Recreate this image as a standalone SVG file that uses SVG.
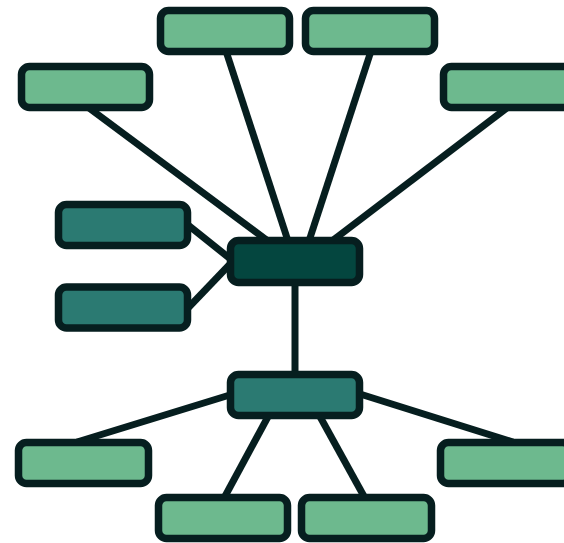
<svg xmlns="http://www.w3.org/2000/svg" width="564" height="543" viewBox="0 0 564 543">
<style>
.n rect{stroke:#061e1f;stroke-width:7.5;}
.leaf rect{fill:#6db98e;}
.mid rect{fill:#2b7a72;}
.root rect{fill:#04463f;}
#edges line{stroke:#061e1f;stroke-width:7;stroke-linecap:butt;}
</style>
<rect width="564" height="543" fill="#ffffff"/>
<g id="edges">
<line x1="85" y1="105" x2="272" y2="244"/>
<line x1="225" y1="48" x2="289" y2="244"/>
<line x1="372" y1="48" x2="308" y2="244"/>
<line x1="512" y1="104" x2="328" y2="244"/>
<line x1="188" y1="225" x2="233" y2="261"/>
<line x1="188" y1="308" x2="233" y2="261"/>
<line x1="295" y1="280" x2="295" y2="378"/>
<line x1="233" y1="394" x2="77" y2="442"/>
<line x1="270" y1="413" x2="223" y2="500"/>
<line x1="318" y1="413" x2="366" y2="500"/>
<line x1="360" y1="394" x2="513" y2="442"/>
</g>
<g id="root" class="n root"><rect x="230.5" y="240.5" width="129" height="42" rx="8"/></g>
<g id="hub2" class="n mid"><rect x="230.5" y="374.5" width="129" height="41" rx="8"/></g>
<g id="side1" class="n mid"><rect x="58.5" y="204.5" width="129" height="41" rx="8"/></g>
<g id="side2" class="n mid"><rect x="58.5" y="287" width="129" height="41" rx="8"/></g>
<g id="top1" class="n leaf"><rect x="21.5" y="66.5" width="128" height="41" rx="8"/></g>
<g id="top2" class="n leaf"><rect x="160.5" y="10.5" width="129" height="41" rx="8"/></g>
<g id="top3" class="n leaf"><rect x="305.5" y="10.5" width="129" height="41" rx="8"/></g>
<g id="top4" class="n leaf"><rect x="443.5" y="66.5" width="129" height="41" rx="8"/></g>
<g id="bot1" class="n leaf"><rect x="18.5" y="442.5" width="130" height="41" rx="8"/></g>
<g id="bot2" class="n leaf"><rect x="158.5" y="497.5" width="129" height="41" rx="8"/></g>
<g id="bot3" class="n leaf"><rect x="301.5" y="497.5" width="130" height="41" rx="8"/></g>
<g id="bot4" class="n leaf"><rect x="440.5" y="442.5" width="130" height="41" rx="8"/></g>
</svg>
